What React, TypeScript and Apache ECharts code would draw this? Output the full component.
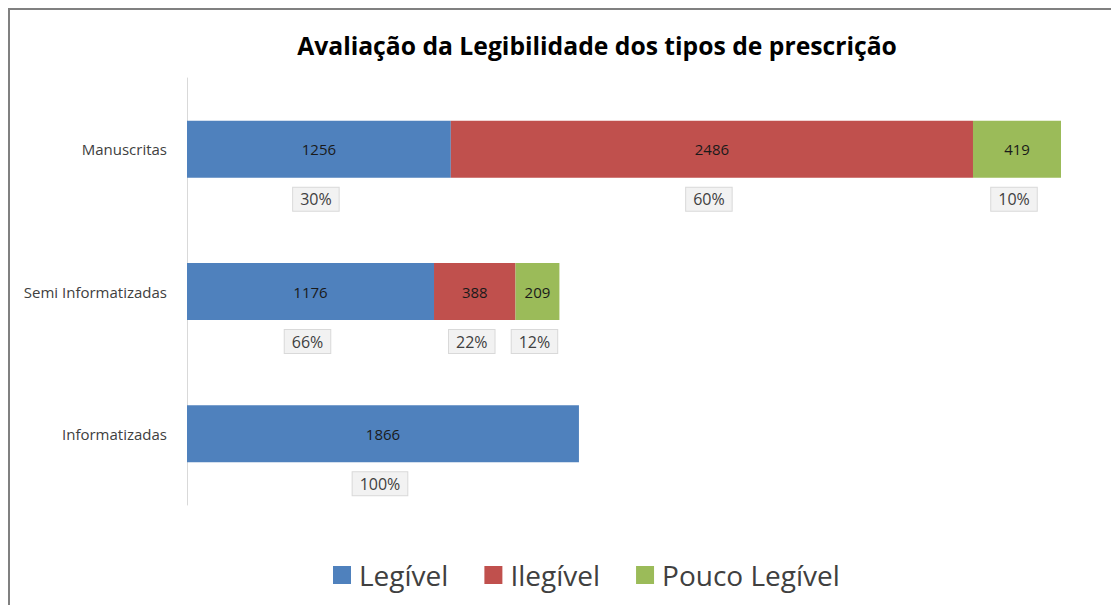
import React, { useEffect, useRef } from "react";
import * as echarts from "echarts";

const categories = ["Manuscritas", "Semi Informatizadas", "Informatizadas"];
const seriesNames = ["Legível", "Ilegível", "Pouco Legível"];
const legivel = [1256, 1176, 1866];
const ilegivel = [2486, 388, 0];
const poucoLegivel = [419, 209, 0];
const colors = ["#4f81bd", "#c0504d", "#9bbb59"];
const titleText = "Avaliação da Legibilidade dos tipos de prescrição";

const FONT = "'Open Sans', 'Noto Sans', sans-serif";

export default function App() {
  const ref = useRef<HTMLDivElement>(null);
  useEffect(() => {
    if (!ref.current) return;
    const chart = echarts.init(ref.current, null, { renderer: "svg" });
    const all = [legivel, ilegivel, poucoLegivel];
    const totals = categories.map((_, i) => all.reduce((s, a) => s + a[i], 0));
    const maxTotal = Math.max(...totals);

    const valueSeries = all.map((arr, si) => ({
      name: seriesNames[si],
      type: "bar",
      stack: "v",
      barWidth: "40%",
      barGap: "-100%",
      itemStyle: { color: colors[si] },
      label: {
        show: true,
        position: "inside",
        color: "#1a1a1a",
        fontSize: 15,
        fontFamily: FONT,
      },
      data: arr.map((v) => (v === 0 ? { value: v, label: { show: false } } : v)),
    }));

    const pctSeries = all.map((arr, si) => ({
      name: seriesNames[si] + "_pct",
      type: "bar",
      stack: "p",
      barWidth: "40%",
      barGap: "-100%",
      silent: true,
      itemStyle: { color: "rgba(0,0,0,0)" },
      label: {
        show: true,
        position: "inside",
        offset: [-3, 50],
        color: "#404040",
        fontSize: 16,
        fontFamily: FONT,
        backgroundColor: "#f2f2f2",
        borderColor: "#d9d9d9",
        borderWidth: 1,
        padding: [4, 7, 3, 7],
        formatter: (p: any) => Math.round((p.value / totals[p.dataIndex]) * 100) + "%",
      },
      data: arr.map((v) => (v === 0 ? { value: v, label: { show: false } } : v)),
    }));

    chart.setOption({
      animation: false,
      backgroundColor: "#ffffff",
      title: {
        text: titleText,
        left: 592,
        textAlign: "center",
        top: 28,
        textStyle: { fontSize: 24.7, fontWeight: "bold", color: "#000", fontFamily: FONT },
      },
      legend: {
        data: seriesNames,
        left: 328,
        top: 556,
        itemWidth: 18,
        itemHeight: 18,
        itemGap: 36,
        icon: "rect",
        textStyle: { fontSize: 28, color: "#404040", fontFamily: FONT, padding: [0, 0, 0, 3] },
      },
      grid: { left: 187, right: 50, top: 78, bottom: 100 },
      xAxis: {
        type: "value",
        min: 0,
        max: maxTotal,
        show: false,
      },
      yAxis: {
        type: "category",
        data: categories,
        inverse: true,
        axisLine: { show: true, lineStyle: { color: "#d9d9d9", width: 1 } },
        axisTick: { show: false },
        axisLabel: { color: "#404040", fontSize: 15, margin: 20, fontFamily: FONT },
      },
      graphic: [
        {
          type: "polyline",
          shape: { points: [[9, 605], [9, 9], [1111, 9]] },
          style: { stroke: "#808080", lineWidth: 2, fill: "none" },
        },
      ],
      series: [...valueSeries, ...pctSeries],
    });
    return () => chart.dispose();
  }, []);
  return <div ref={ref} style={{ position: "fixed", left: 0, top: 0, width: 1111, height: 605 }} />;
}
